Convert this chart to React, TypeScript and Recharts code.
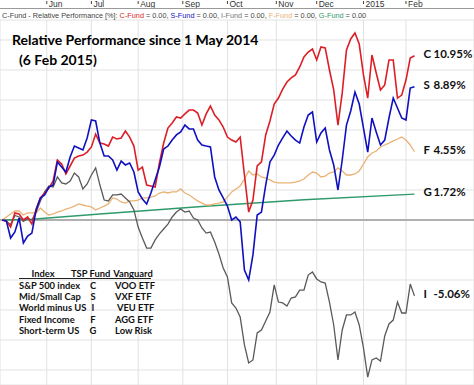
import React from 'react';
import { LineChart, Line, XAxis, YAxis, CartesianGrid, ReferenceLine } from 'recharts';

document.body.style.margin = '0';

// trading-day index since 1 May 2014 (every 2nd session)
const tradingDay = [
  0, 2, 4, 6, 8, 10, 12, 14, 16, 18, 20, 22, 24, 26, 28, 30, 32, 34, 36, 38,
  40, 42, 44, 46, 48, 50, 52, 54, 56, 58, 60, 62, 64, 66, 68, 70, 72, 74, 76, 78,
  80, 82, 84, 86, 88, 90, 92, 94, 96, 98, 100, 102, 104, 106, 108, 110, 112, 114, 116, 118,
  120, 122, 124, 126, 128, 130, 132, 134, 136, 138, 140, 142, 144, 146, 148, 150, 152, 154, 156, 158,
  160, 162, 164, 166, 168, 170, 172, 174, 176, 178, 180, 182, 184, 186, 188, 190, 192, 194,
];

const cFund = [
  0, -0.07, -0.47, 0.47, 0.4, 0, 0.2, -0.27, 0.73, 1.47,
  1.8, 2.13, 2.6, 4.0, 3.73, 3.07, 3.6, 4.13, 4.27, 4.33,
  4.53, 4.87, 5.73, 5.13, 5.07, 4.93, 5.53, 5.4, 5.47, 5.93,
  5.53, 4.93, 3.33, 3.53, 2.33, 2.27, 2.2, 3.8, 5.13, 6.13,
  6.47, 6.87, 6.8, 7.07, 7.33, 7.33, 7.13, 6.33, 7.07, 7.6,
  7.0, 6.67, 6.2, 5.53, 5.33, 5.2, 5.53, 3.0, 0.53, 1.33,
  3.6, 3.87, 5.67, 6.6, 7.73, 8.13, 8.73, 9.2, 9.47, 9.67,
  10.2, 10.87, 11.2, 11.4, 10.67, 11.53, 11.47, 10.0, 8.67, 6.33,
  8.47, 11.33, 12.07, 12.47, 11.73, 9.67, 8.13, 11.0, 9.8, 8.67,
  9.0, 10.67, 10.67, 8.13, 8.33, 9.33, 10.8, 10.95,
];

const sFund = [
  0, -0.07, -1.2, -0.8, 0.13, -1.53, -1.07, -0.87, 0.67, 1.47,
  1.67, 2.2, 2.33, 3.87, 3.53, 3.2, 4.2, 4.93, 4.8, 4.67,
  5.47, 6.67, 6.6, 5.13, 4.27, 4.27, 4.0, 3.33, 3.93, 3.67,
  3.8, 3.2, 1.87, 1.4, 1.07, 1.8, 2.67, 3.53, 4.73, 4.93,
  5.33, 5.67, 5.87, 6.33, 6.07, 6.07, 5.33, 5.0, 4.93, 4.87,
  2.87, 2.0, 1.47, 0.93, 0, 0.2, -0.13, -3.33, -4.0, -2.33,
  0.33, 0.53, 2.33, 3.87, 4.33, 5.0, 5.47, 5.93, 5.6, 5.33,
  5.13, 6.2, 7.0, 7.2, 5.2, 5.8, 6.13, 4.67, 3.67, 2.0,
  4.0, 6.33, 7.27, 8.53, 7.73, 6.13, 4.53, 6.8, 5.87, 5.0,
  5.33, 6.8, 8.13, 7.47, 6.8, 6.67, 8.8, 8.89,
];

const iFund = [
  0, -0.1, -0.3, 0.3, 0.2, -0.1, 0.1, 0, 0.53, 1.27,
  1.87, 2.27, 2.2, 2.87, 2.47, 2.4, 2.6, 3.13, 2.87, 2.07,
  2.4, 3.0, 3.47, 2.33, 1.33, 1.27, 1.67, 1.67, 1.73, 1.47,
  1.2, 0.67, -0.47, -1.2, -1.87, -1.87, -1.33, -0.93, -0.6, -0.27,
  0.2, 0.53, 0.73, 0.53, 0.6, 0.13, 0, -0.53, -0.87, -0.8,
  -1.47, -2.27, -3.2, -3.8, -5.53, -5.87, -6.47, -8.33, -9.53, -9.33,
  -7.53, -7.33, -6.73, -6.13, -4.33, -5.47, -5.53, -5.73, -5.2, -5.13,
  -4.67, -4.67, -3.67, -3.47, -3.93, -4.13, -4.2, -5.47, -7.0, -9.33,
  -7.33, -6.33, -6.33, -6.13, -7.0, -8.53, -10.47, -9.33, -9.2, -9.4,
  -7.73, -6.93, -6.67, -5.47, -6.2, -6.2, -4.27, -5.06,
];

const fFund = [
  0, 0.2, 0.4, 0.6, 0.6, 0.33, 0.47, 0.47, 0.47, 0.8,
  0.53, 0.33, 0.4, 0.53, 0.6, 0.73, 0.8, 0.93, 1.07, 1.0,
  0.93, 0.87, 0.67, 0.8, 0.93, 1.07, 1.47, 1.4, 1.2, 1.13,
  1.27, 1.27, 1.33, 1.47, 1.47, 1.53, 1.6, 1.8, 1.87, 1.8,
  1.87, 1.87, 2.07, 1.8, 1.67, 1.47, 1.27, 1.13, 1.0, 1.0,
  1.07, 1.13, 1.2, 1.53, 1.87, 2.07, 2.27, 2.73, 3.27, 3.0,
  3.07, 2.87, 2.8, 2.67, 2.53, 2.47, 2.47, 2.47, 2.47, 2.53,
  2.6, 2.73, 3.0, 3.2, 3.13, 2.87, 2.93, 3.13, 3.2, 3.47,
  3.27, 3.0, 3.0, 3.07, 3.27, 3.73, 4.2, 4.47, 4.6, 4.87,
  5.0, 5.13, 5.27, 5.4, 5.53, 5.33, 5.0, 4.55,
];

// G fund is nearly a straight line; read at a few points only
const gFundReadings: Record<number, number> = { 0: 0, 14: 0.05, 46: 0.4, 94: 0.9, 142: 1.35, 194: 1.72 };

const monthTicks = [21, 42, 64, 85, 106, 129, 148, 170, 190];
const monthLabels = ['Jun', 'Jul', 'Aug', 'Sep', 'Oct', 'Nov', 'Dec', '2015', 'Feb'];
const pctTicks = [-10, -8, -6, -4, -2, 0, 2, 4, 6, 8, 10, 12];

const tableRows = [
  ['S&P 500 index', 'C', 'VOO ETF'],
  ['Mid/Small Cap', 'S', 'VXF ETF'],
  ['World minus US', 'I', ' VEU ETF'],
  ['Fixed Income', 'F', 'AGG ETF'],
  ['Short-term US', 'G', 'Low Risk'],
];

const data = tradingDay.map((d, i) => ({
  day: d,
  C: cFund[i],
  S: sFund[i],
  I: iFund[i],
  F: fFund[i],
  G: gFundReadings[d] ?? null,
}));

const last = tradingDay.length - 1;

const endLabel = (letter: string) => (props: any) => {
  const { x, y, index, value } = props;
  if (index !== last) return null;
  return (
    <text x={x + 9} y={y + 2} fontFamily="Lato, sans-serif" fontWeight={700} fontSize={11.5} fill="#111">
      <tspan>{letter}</tspan>
      <tspan x={x + 19}>{value.toFixed(2)}%</tspan>
    </text>
  );
};

const MonthTick = (props: any) => {
  const { x, payload } = props;
  const label = monthLabels[monthTicks.indexOf(payload.value)];
  return (
    <g>
      <line x1={x} x2={x} y1={1} y2={4} stroke="#444" strokeWidth={1} />
      <text x={x + 2} y={7} fontFamily="Liberation Sans, Arial, sans-serif" fontSize={8.5} fill="#333">
        {label}
      </text>
    </g>
  );
};

const cell = (left: number, width: number, align: 'left' | 'center' | 'right'): React.CSSProperties => ({
  position: 'absolute', left, width, textAlign: align,
});

export default function App() {
  return (
    <div style={{ position: 'relative', width: 474, height: 385, background: '#fff', overflow: 'hidden' }}>
      <LineChart width={474} height={385} data={data} margin={{ top: 0, right: 0, bottom: 0, left: 0 }}>
        <CartesianGrid stroke="#e2e2e2" />
        <XAxis
          dataKey="day"
          type="number"
          orientation="top"
          domain={[-1, 222]}
          ticks={monthTicks}
          height={20}
          axisLine={false}
          tickLine={false}
          tick={<MonthTick />}
          interval={0}
        />
        <YAxis hide domain={[-11, 13.3333]} ticks={pctTicks} />
        <ReferenceLine y={0} stroke="#b0b0b0" strokeWidth={2} />
        <Line dataKey="G" stroke="#2f9a6c" strokeWidth={1.3} dot={false} connectNulls isAnimationActive={false} label={endLabel('G')} />
        <Line dataKey="F" stroke="#e8b374" strokeWidth={1.3} dot={false} isAnimationActive={false} label={endLabel('F')} />
        <Line dataKey="I" stroke="#5a5a5a" strokeWidth={1.3} dot={false} isAnimationActive={false} label={endLabel('I')} />
        <Line dataKey="C" stroke="#dc1f26" strokeWidth={1.6} dot={false} isAnimationActive={false} label={endLabel('C')} />
        <Line dataKey="S" stroke="#1010c0" strokeWidth={1.6} dot={false} isAnimationActive={false} label={endLabel('S')} />
      </LineChart>

      <div style={{ position: 'absolute', left: 0, top: 8, width: 474, height: 1, background: '#9a9a9a' }} />
      <div
        style={{
          position: 'absolute', left: 2, top: 11, fontFamily: 'Liberation Sans, Arial, sans-serif',
          fontSize: 7.3, color: '#444', whiteSpace: 'nowrap', lineHeight: '9px',
        }}
      >
        C-Fund - Relative Performance [%]: <span style={{ color: '#dc1f26' }}>C-Fund</span> = 0.00,{' '}
        <span style={{ color: '#1010c0' }}>S-Fund</span> = 0.00, <span style={{ color: '#777' }}>I-Fund</span> = 0.00,{' '}
        <span style={{ color: '#e8b374' }}>F-Fund</span> = 0.00, <span style={{ color: '#2f9a6c' }}>G-Fund</span> = 0.00
      </div>

      <div
        style={{
          position: 'absolute', left: 12, top: 30, fontFamily: 'Lato, sans-serif', fontWeight: 700,
          fontSize: 14, color: '#000', lineHeight: '20px', whiteSpace: 'nowrap',
        }}
      >
        <div>Relative Performance since 1 May 2014</div>
        <div style={{ paddingLeft: 7 }}>(6 Feb 2015)</div>
      </div>

      <div
        style={{
          position: 'absolute', left: 0, top: 0, fontFamily: 'Lato, sans-serif', fontWeight: 700,
          fontSize: 9.4, color: '#111', lineHeight: '11px', whiteSpace: 'pre',
        }}
      >
        <div style={{ position: 'absolute', top: 268, left: 0, width: 474, height: 11 }}>
          <span style={cell(19, 48, 'center')}>Index</span>
          <span style={cell(71, 38, 'center')}>TSP Fund</span>
          <span style={cell(113, 40, 'center')}>Vanguard</span>
        </div>
        <div style={{ position: 'absolute', top: 278, left: 19, width: 132, height: 1, background: '#222' }} />
        {tableRows.map((r, i) => (
          <div key={r[0]} style={{ position: 'absolute', top: 280 + i * 11.2, left: 0, width: 474, height: 11 }}>
            <span style={cell(19, 72, 'left')}>{r[0]}</span>
            <span style={cell(87, 12, 'center')}>{r[1]}</span>
            <span style={cell(115, 40, 'left')}>{r[2]}</span>
          </div>
        ))}
      </div>
    </div>
  );
}
